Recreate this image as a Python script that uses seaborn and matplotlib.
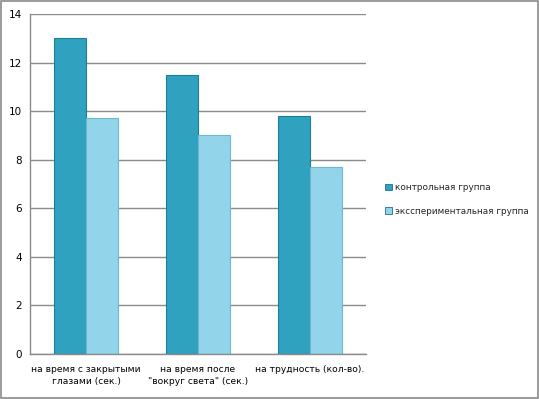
import pandas as pd
import matplotlib.pyplot as plt
import seaborn as sns
from matplotlib.patches import Rectangle

categories = ['на время с закрытыми\nглазами (сек.)',
              'на время после\n"вокруг света" (сек.)',
              'на трудность (кол-во).']
series = ['контрольная группа', 'эксспериментальная группа']
control = [13.0, 11.5, 9.8]
experimental = [9.7, 9.0, 7.7]
yticks = [0, 2, 4, 6, 8, 10, 12, 14]

df = pd.DataFrame({
    'cat': categories * 2,
    'group': [series[0]] * 3 + [series[1]] * 3,
    'value': control + experimental,
})

sns.set_style('white')
plt.rcParams['font.family'] = ['DejaVu Sans']

fig = plt.figure(figsize=(5.39, 3.99), dpi=100)
ax = fig.add_axes([0.0557, 0.1128, 0.6233, 0.8522])

palette = {series[0]: '#2fa2c0', series[1]: '#92d4ea'}
sns.barplot(data=df, x='cat', y='value', hue='group', palette=palette,
            width=0.58, gap=0, saturation=1, ax=ax, legend=False,
            edgecolor='none')
for bar, ec in zip(ax.patches, ['#1d7d97'] * 3 + ['#6fb6cf'] * 3):
    bar.set_edgecolor(ec)
    bar.set_linewidth(0.8)

ax.set_ylim(0, 14)
ax.set_xlim(-0.5, 2.5)
ax.set_yticks(yticks)
ax.set_yticklabels([str(t) for t in yticks], fontsize=7.5, color='black')
ax.yaxis.grid(True, color='#8a8a8a', linewidth=1)
ax.set_axisbelow(True)
ax.set_xlabel('')
ax.set_ylabel('')
ax.set_xticks([0, 1, 2])
ax.set_xticklabels(categories, fontsize=6.6, color='black', linespacing=1.45)
ax.set_xticks([-0.5, 0.5, 1.5, 2.5], minor=True)
ax.tick_params(axis='x', which='major', length=0, pad=8)
ax.tick_params(axis='x', which='minor', length=5, color='#8a8a8a', width=1)
ax.tick_params(axis='y', length=4, color='#8a8a8a', width=1, pad=2)
for side in ['top', 'right']:
    ax.spines[side].set_visible(False)
for side in ['left', 'bottom']:
    ax.spines[side].set_color('#8a8a8a')
    ax.spines[side].set_linewidth(1)

handles = [Rectangle((0, 0), 1, 1, facecolor=palette[s], edgecolor='#1d6f8a', linewidth=0.6)
           for s in series]
fig.legend(handles, series, loc='center left', bbox_to_anchor=(0.7, 0.5),
           frameon=False, fontsize=6.4, handlelength=0.7, handleheight=0.7,
           handletextpad=0.4, labelspacing=1.6)

fig.patches.append(Rectangle((0.001, 0.002), 0.997, 0.996, transform=fig.transFigure,
                             fill=False, edgecolor='#8a8a8a', linewidth=1.2))

fig.savefig('out.png', dpi=100)
